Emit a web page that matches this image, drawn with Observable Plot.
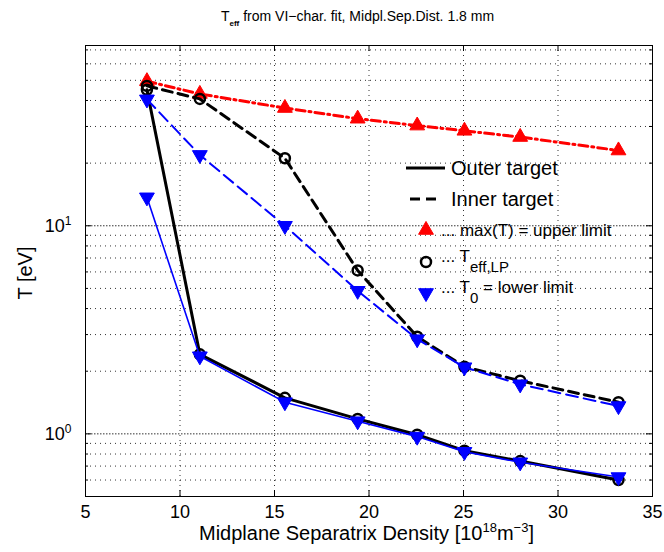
<!DOCTYPE html>
<html><head><meta charset="utf-8">
<script src="https://cdn.jsdelivr.net/npm/d3@7"></script>
<script src="https://cdn.jsdelivr.net/npm/@observablehq/plot@0.6"></script>
<style>body{margin:0;background:#fff}#chart{width:664px;height:552px}</style>
</head><body><div id="chart"></div>
<script>
// Data
const density    = [8.25, 11.05, 15.55, 19.4, 22.55, 25.05, 28.0, 33.2];
const upperLimit = [49.5, 43.0, 36.8, 32.7, 30.3, 28.6, 26.7, 23.0];
const innerTeff  = [47.0, 40.7, 21.1, 6.1, 2.93, 2.10, 1.80, 1.42];
const innerT0    = [40.5, 21.9, 10.0, 4.87, 2.85, 2.09, 1.73, 1.36];
const outerTeff  = [45.0, 2.41, 1.49, 1.18, 0.99, 0.83, 0.74, 0.60];
const outerT0    = [13.7, 2.36, 1.42, 1.15, 0.97, 0.82, 0.73, 0.62];
const xTicks = [5, 10, 15, 20, 25, 30, 35];
const xGrid = [10, 15, 20, 25, 30];
const yMajor = [1, 10];
const yMinor = [0.6, 0.7, 0.8, 0.9, 2, 3, 4, 5, 6, 7, 8, 9, 20, 30, 40, 50, 60, 70];
const xDomain = [5, 35];
const yDomain = [0.5, 73.5];
const titleMain = " from VI\u2212char. fit, Midpl.Sep.Dist. 1.8 mm";
const legendLineLabels = ["Outer target", "Inner target"];
const legendMarkerLabels = ["... max(T) = upper limit", "... T|eff,LP", "... T|0| = lower limit"];

const W = 664, H = 552, mL = 85, mR = 12, mT = 45, mB = 56;
const fW = W - mL - mR, fH = H - mT - mB;
const FONT = "'Liberation Sans', Arial, Helvetica, sans-serif";

const pts = ys => density.map((x, i) => ({x, y: ys[i]}));
const gridStyle = {stroke: "#000", strokeOpacity: 0.8, strokeWidth: 1};

const plot = Plot.plot({
  width: W, height: H,
  marginLeft: mL, marginRight: mR, marginTop: mT, marginBottom: mB,
  style: {fontFamily: FONT, fontSize: "18px", color: "#000", background: "#fff"},
  x: {domain: xDomain, label: null},
  y: {type: "log", domain: yDomain, label: null},
  marks: [
    Plot.gridY(yMinor, {...gridStyle, strokeDasharray: "1,4"}),
    Plot.gridY(yMajor, {...gridStyle, strokeDasharray: "1.5,1.5"}),
    Plot.gridX(xGrid, {...gridStyle, strokeDasharray: "1,4"}),
    Plot.axisX(xTicks, {tickSize: 0, tickPadding: 9, label: null, fontSize: 18}),
    Plot.axisY(yMajor, {tickSize: 0, tickPadding: 14, label: null, fontSize: 18,
      tickFormat: d => "10^" + Math.round(Math.log10(d))}),
    Plot.tickX(xTicks, {x: d => d, insetTop: fH - 6, stroke: "#000"}),
    Plot.tickX(xTicks, {x: d => d, insetBottom: fH - 6, stroke: "#000"}),
    Plot.tickY(yMajor, {y: d => d, insetRight: fW - 6, stroke: "#000"}),
    Plot.tickY(yMajor, {y: d => d, insetLeft: fW - 6, stroke: "#000"}),
    Plot.tickY(yMinor, {y: d => d, insetRight: fW - 3, stroke: "#000"}),
    Plot.tickY(yMinor, {y: d => d, insetLeft: fW - 3, stroke: "#000"}),
    Plot.frame({stroke: "#000", strokeWidth: 1}),
    // red upper limit
    Plot.line(pts(upperLimit), {x: "x", y: "y", stroke: "#ff0000", strokeWidth: 3, strokeDasharray: "9,4,2,4"}),
    Plot.dot(pts(upperLimit), {x: "x", y: "y", symbol: "triangle", r: 5.5, fill: "#ff0000", stroke: "#ff0000", strokeWidth: 1}),
    // outer target (solid)
    Plot.line(pts(outerTeff), {x: "x", y: "y", stroke: "#000", strokeWidth: 3}),
    Plot.dot(pts(outerTeff), {x: "x", y: "y", r: 5, fill: "none", stroke: "#000", strokeWidth: 2.5}),
    Plot.line(pts(outerT0), {x: "x", y: "y", stroke: "#0000ff", strokeWidth: 1.6}),
    // inner target (dashed)
    Plot.line(pts(innerTeff), {x: "x", y: "y", stroke: "#000", strokeWidth: 3, strokeDasharray: "10,6"}),
    Plot.dot(pts(innerTeff), {x: "x", y: "y", r: 5, fill: "none", stroke: "#000", strokeWidth: 2.5}),
    Plot.line(pts(innerT0), {x: "x", y: "y", stroke: "#0000ff", strokeWidth: 2, strokeDasharray: "12,6"}),
    Plot.dot(pts(outerT0), {x: "x", y: "y", symbol: "triangle", rotate: 180, r: 5.5, fill: "#0000ff", stroke: "#0000ff", strokeWidth: 1}),
    Plot.dot(pts(innerT0), {x: "x", y: "y", symbol: "triangle", rotate: 180, r: 5.5, fill: "#0000ff", stroke: "#0000ff", strokeWidth: 1})
  ]
});

const svg = d3.select(plot);
// superscript y tick labels
svg.selectAll('g[aria-label="y-axis tick label"] text').each(function () {
  const t = d3.select(this);
  const [b, e] = t.text().split("^");
  t.text(null);
  t.append("tspan").text(b);
  t.append("tspan").attr("dy", "-0.55em").attr("font-size", "12px").text(e);
});

const g = svg.append("g").attr("font-family", FONT).attr("fill", "#000").attr("text-anchor", "start");
const cx = mL + fW / 2;
// title
const tt = g.append("text").attr("x", cx - 11).attr("y", 21).attr("text-anchor", "middle").attr("font-size", 14);
tt.append("tspan").text("T");
tt.append("tspan").attr("dy", 5).attr("font-size", 8).attr("font-weight", "bold").text("eff");
tt.append("tspan").attr("dy", -5).text(titleMain);
// x label
const xl = g.append("text").attr("x", cx - 2).attr("y", 540).attr("text-anchor", "middle").attr("font-size", 20);
xl.append("tspan").text("Midplane Separatrix Density [10");
xl.append("tspan").attr("dy", -8).attr("font-size", 13).text("18");
xl.append("tspan").attr("dy", 8).text("m");
xl.append("tspan").attr("dy", -8).attr("font-size", 13).text("\u2212" + "3");
xl.append("tspan").attr("dy", 8).text("]");
// y label
g.append("text").attr("transform", "translate(32,273) rotate(-90)").attr("text-anchor", "middle")
  .attr("font-size", 20).text("T [eV]");

// legend (no box)
const lt = 168, lStep = 31;
legendLineLabels.forEach((lab, i) => {
  const yy = lt + i * lStep;
  g.append("line").attr("x1", i ? 410 : 406).attr("x2", i ? 442 : 445).attr("y1", yy).attr("y2", yy)
    .attr("stroke", "#000").attr("stroke-width", 3).attr("stroke-dasharray", i ? "10,6" : null);
  g.append("text").attr("x", 451).attr("y", yy).attr("dy", "0.35em").attr("font-size", 20).text(lab);
});
const sym = d3.symbol().type(d3.symbolTriangle).size(Math.PI * 5.5 * 5.5);
const mY = [230, 262, 293];
g.append("path").attr("d", sym()).attr("transform", `translate(426,${mY[0]})`).attr("fill", "#ff0000").attr("stroke", "#ff0000");
g.append("circle").attr("cx", 426).attr("cy", mY[1]).attr("r", 5).attr("fill", "none").attr("stroke", "#000").attr("stroke-width", 2.5);
g.append("path").attr("d", sym()).attr("transform", `translate(426,${mY[2]}) rotate(180)`).attr("fill", "#0000ff").attr("stroke", "#0000ff");
legendMarkerLabels.forEach((lab, i) => {
  const parts = lab.split("|");
  const t = g.append("text").attr("x", 441).attr("y", mY[i] + (i ? -6 : 0)).attr("dy", "0.35em").attr("font-size", 17);
  t.append("tspan").text(parts[0]);
  if (parts.length > 1) {
    t.append("tspan").attr("dy", 10).attr("font-size", 15).text(parts[1]);
    if (parts[2]) t.append("tspan").attr("dy", -10).text(parts[2]);
  }
});

document.getElementById("chart").appendChild(plot);
</script>
</body></html>
